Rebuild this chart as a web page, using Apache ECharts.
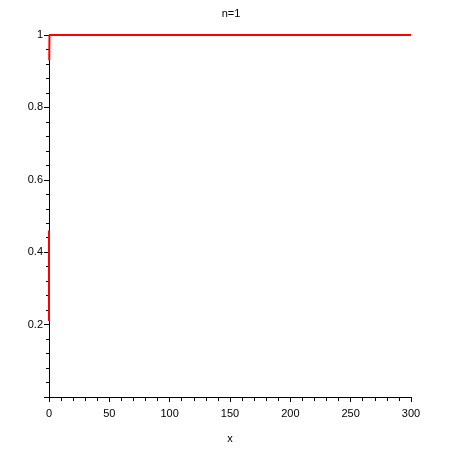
<!DOCTYPE html>
<html><head><meta charset="utf-8">
<script src="https://cdn.jsdelivr.net/npm/echarts@6/dist/echarts.min.js"></script>
<style>html,body{margin:0;padding:0;background:#fff}#c{width:450px;height:450px}</style>
</head><body><div id="c"></div>
<script>
const titleText = "n=1";
const xName = "x";
// curve samples (null = gap where the curve hides behind the axis)
const xValues = [0, 0, null, 0.2, 0.4, 300];
const yValues = [0.21, 0.46, null, 0.93, 1, 1];
const xTicks = [0, 50, 100, 150, 200, 250, 300];
const yTicks = [0.2, 0.4, 0.6, 0.8, 1];

const data = xValues.map((x, i) => (x === null ? '-' : [x, yValues[i]]));
const font = 'Liberation Sans';
const chart = echarts.init(document.getElementById('c'), null, {renderer: 'canvas'});
chart.setOption({
  animation: false,
  backgroundColor: '#fff',
  title: {text: titleText, left: 226, top: 3, textAlign: 'center',
    textStyle: {fontFamily: font, fontSize: 11, fontWeight: 'normal', color: '#000'}},
  grid: {left: 49, right: 39, top: 35, bottom: 53, containLabel: false},
  xAxis: {
    type: 'value', min: 0, max: 300, interval: 50,
    name: xName, nameLocation: 'middle', nameGap: 36,
    nameTextStyle: {fontFamily: font, fontSize: 11, color: '#000'},
    axisLine: {onZero: false, lineStyle: {color: '#000', width: 1}},
    axisTick: {length: 5, lineStyle: {color: '#000'}},
    minorTick: {show: true, splitNumber: 5, length: 4, lineStyle: {color: '#000'}},
    splitLine: {show: false},
    axisLabel: {fontFamily: font, fontSize: 11, color: '#000', margin: 11,
      formatter: v => xTicks.includes(v) ? String(v) : ''}
  },
  yAxis: {
    type: 'value', min: 0, max: 1, interval: 0.2,
    axisLine: {show: true, onZero: false, lineStyle: {color: '#000', width: 1}},
    axisTick: {show: true, length: 5, lineStyle: {color: '#000'}},
    minorTick: {show: true, splitNumber: 5, length: 3, lineStyle: {color: '#000'}},
    splitLine: {show: false},
    axisLabel: {fontFamily: font, fontSize: 11, color: '#000', margin: 6,
      formatter: v => {
        const t = yTicks.find(t => Math.abs(t - v) < 1e-9);
        return t === undefined ? '' : String(t);
      }}
  },
  series: [{
    type: 'line', data: data, showSymbol: false, connectNulls: false,
    lineStyle: {color: '#ff0000', width: 2}, clip: false
  }]
});
</script></body></html>
